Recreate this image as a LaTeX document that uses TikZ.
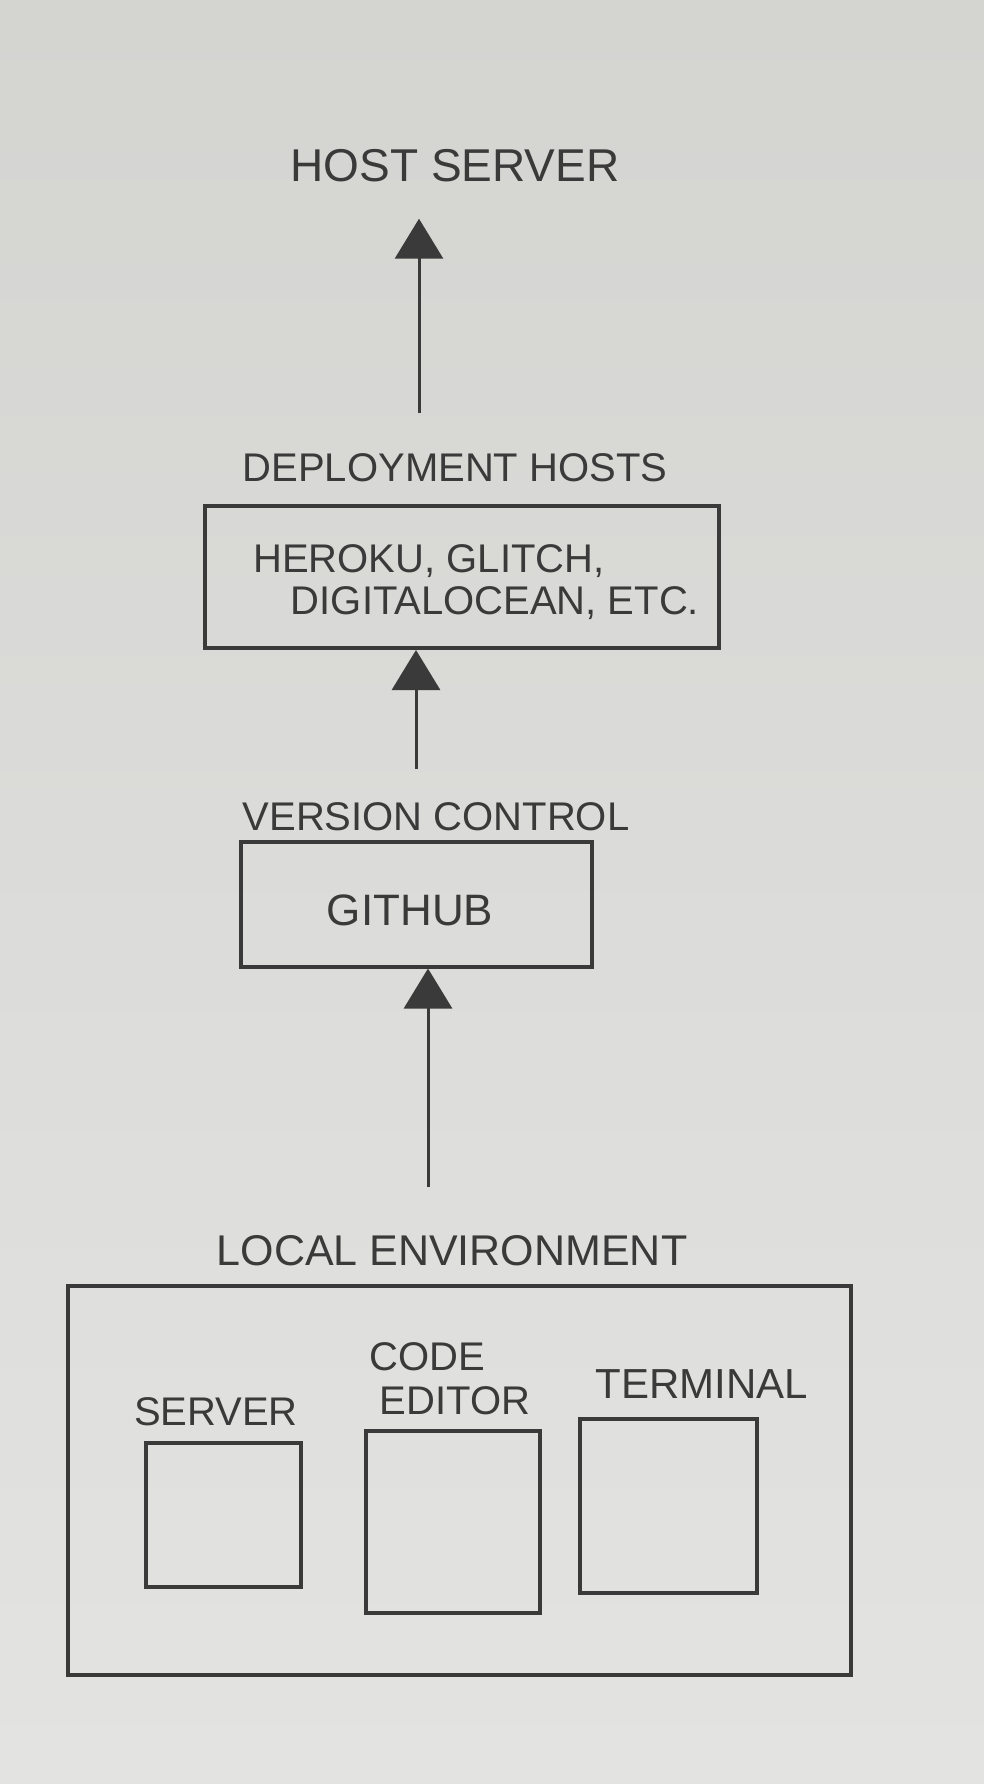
\documentclass[tikz,border=0pt]{standalone}
\usepackage{fontspec}
\setmainfont{Liberation Sans}
\usetikzlibrary{arrows.meta}

\definecolor{papertop}{HTML}{D4D5D1}
\definecolor{paperbot}{HTML}{E3E4E2}
\definecolor{ink}{HTML}{3A3A3A}

\tikzset{
	box/.style={draw=ink, line width=2pt, inner sep=0pt},
	hand/.style={text=ink, inner sep=0pt, font=\fontsize{20}{24}\selectfont},
	bighand/.style={hand, font=\fontsize{23}{28}\selectfont},
	flow/.style={-{Triangle[width=24pt,length=20pt]}, draw=ink, line width=1.5pt},
}

\begin{document}
\begin{tikzpicture}[x=0.5pt, y=-0.5pt]
	\shade [top color=papertop, bottom color=paperbot] (0, 0) rectangle (984, 1784);
	\useasboundingbox (0, 0) rectangle (984, 1784);

	% host server
	\node [bighand] (hostlbl) at (455, 166) {HOST SERVER};

	% deployment hosts
	\node [hand] (deploylbl) at (455, 468) {DEPLOYMENT HOSTS};
	\node [box, minimum width=257pt, minimum height=71pt] (deploybox) at (462, 577) {};
	\node [hand] (heroku) at (429, 561) {HEROKU, GLITCH,};
	\node [hand] (digital) at (495, 603) {DIGITALOCEAN, ETC.};

	% version control
	\node [hand] (vclbl) at (436, 817) {VERSION CONTROL};
	\node [box, minimum width=175.5pt, minimum height=62.5pt] (gitbox) at (416, 904) {};
	\node [hand, font=\fontsize{22}{26}\selectfont] (github) at (410, 910) {GITHUB};

	% local environment
	\node [hand, font=\fontsize{21.5}{26}\selectfont] (locallbl) at (452, 1251) {LOCAL ENVIRONMENT};
	\node [box, minimum width=391.5pt, minimum height=194.5pt] (localbox) at (459, 1480) {};

	\node [hand] (serverlbl) at (216, 1412) {SERVER};
	\node [box, minimum width=77.5pt, minimum height=72pt] (serverbox) at (223, 1515) {};

	\node [hand] (codelbl) at (427, 1357) {CODE};
	\node [hand] (editorlbl) at (455, 1401) {EDITOR};
	\node [box, minimum width=87pt, minimum height=91pt] (editorbox) at (453, 1522) {};

	\node [hand, font=\fontsize{21}{25}\selectfont] (termlbl) at (702, 1384) {TERMINAL};
	\node [box, minimum width=88.5pt, minimum height=87pt] (termbox) at (668, 1506) {};

	% arrows
	\coordinate (up1) at (419, 413);
	\coordinate (up2) at (416, 769);
	\coordinate (up3) at (428, 1187);
	\draw [flow, shorten >=18pt] (up1) -- (up1 |- hostlbl.south);
	\draw [flow] (up2) -- (up2 |- deploybox.south);
	\draw [flow] (up3) -- (up3 |- gitbox.south);

\end{tikzpicture}
\end{document}
